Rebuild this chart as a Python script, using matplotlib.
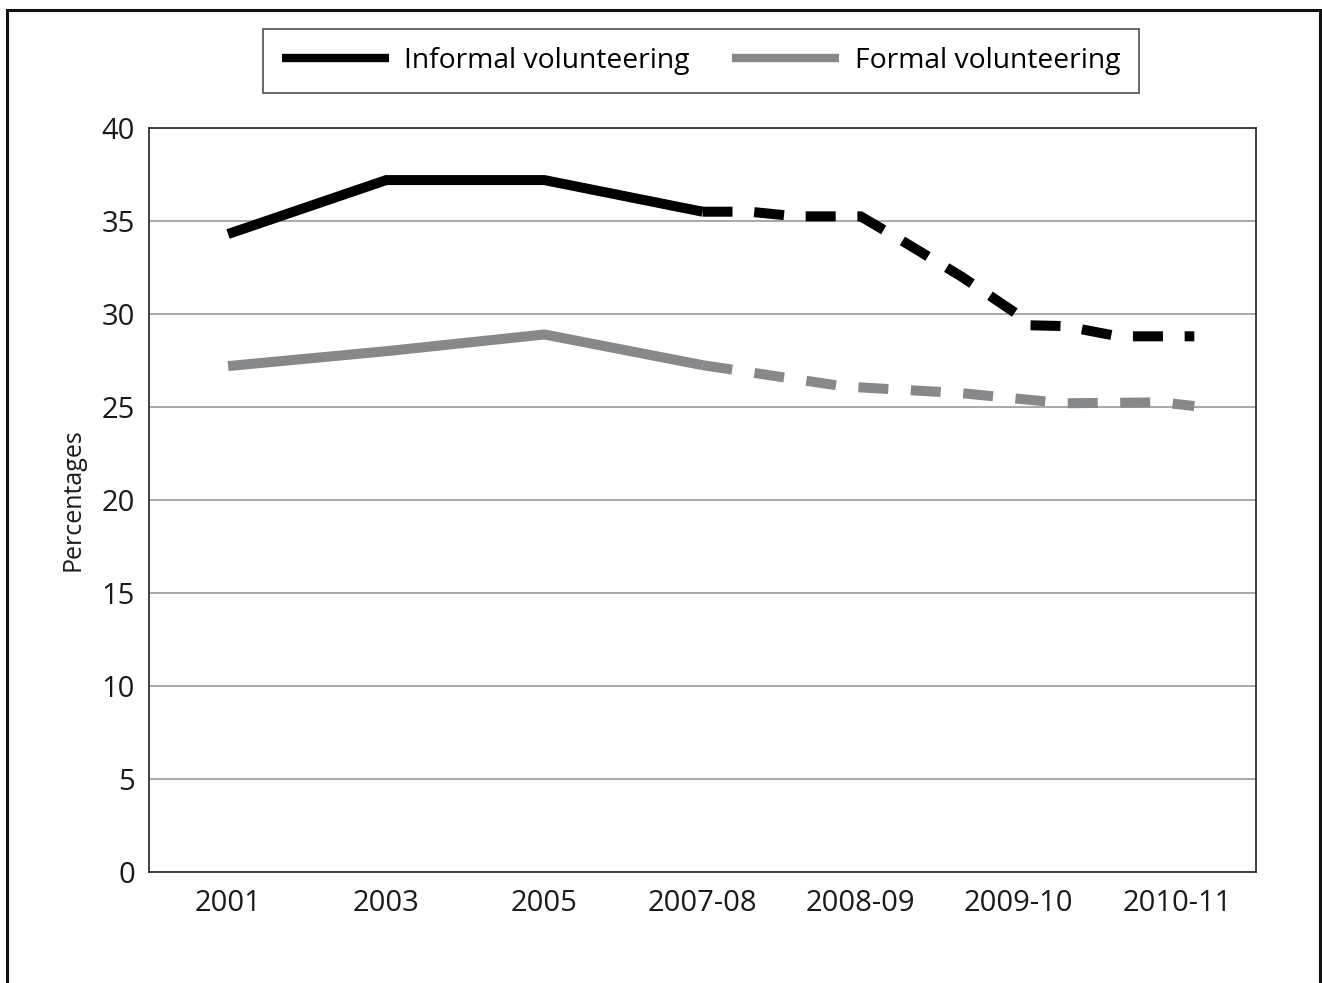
import matplotlib.pyplot as plt
from matplotlib.lines import Line2D
from matplotlib.patches import Rectangle

plt.rcParams["font.family"] = ["Open Sans", "DejaVu Sans"]

categories = ["2001", "2003", "2005", "2007-08", "2008-09", "2009-10", "2010-11"]

# solid part (annual surveys), x in category positions
informal_solid_x = [0, 1, 2, 3]
informal_solid = [34.3, 37.2, 37.2, 35.5]
formal_solid_x = [0, 1, 2, 3]
formal_solid = [27.2, 28.0, 28.9, 27.25]

# dashed part (continuous survey), vertices
informal_dash_x = [3.0, 3.30, 3.59, 4.0, 4.25, 4.64, 4.98, 5.04, 5.29, 5.63, 6.11]
informal_dash = [35.5, 35.5, 35.25, 35.25, 34.0, 32.0, 30.05, 29.4, 29.35, 28.8, 28.8]
formal_dash_x = [3.0, 3.9, 4.63, 5.29, 5.9, 6.11]
formal_dash = [27.25, 26.1, 25.75, 25.2, 25.25, 25.05]

black = "#000000"
grey = "#87888a"

W, H = 1322, 983
fig = plt.figure(figsize=(W / 100, H / 100), dpi=100)
ax = fig.add_axes([149 / W, 111 / H, (1256 - 149) / W, (872 - 128) / H])

lw = 7.2
ax.plot(informal_solid_x, informal_solid, color=black, lw=lw,
        solid_joinstyle="miter", solid_capstyle="butt", zorder=3)
ax.plot(informal_dash_x, informal_dash, color=black, lw=lw,
        linestyle=(0, (3.0, 2.17)),
        dash_capstyle="butt", dash_joinstyle="miter", zorder=3)
ax.plot(formal_solid_x, formal_solid, color=grey, lw=lw,
        solid_joinstyle="miter", solid_capstyle="butt", zorder=3)
ax.plot(formal_dash_x, formal_dash, color=grey, lw=lw,
        linestyle=(0, (3.0, 2.25)),
        dash_capstyle="butt", dash_joinstyle="miter", zorder=3)

ax.set_xlim(-0.5, 6.5)
ax.set_ylim(0, 40)
ax.set_yticks(range(0, 41, 5))
ax.set_xticks(range(len(categories)))
ax.set_xticklabels(categories)
ax.yaxis.grid(True, color="#9a9a9a", lw=1.2)
ax.set_axisbelow(True)
ax.tick_params(axis="both", length=0, labelsize=21, colors="#1a1a1a")
ax.tick_params(axis="x", pad=12)
ax.tick_params(axis="y", pad=10)
for s in ax.spines.values():
    s.set_color("#333333")
    s.set_linewidth(1.3)
ax.set_ylabel("Percentages", fontsize=18, labelpad=12, color="#1a1a1a")

handles = [
    Line2D([], [], color=black, lw=6, solid_capstyle="butt"),
    Line2D([], [], color=grey, lw=6, solid_capstyle="butt"),
]
leg = fig.legend(handles, ["Informal volunteering", "Formal volunteering"],
                 loc="center", bbox_to_anchor=(701 / W, 1 - 61 / H), ncol=2,
                 fontsize=20.3, frameon=True, fancybox=False, handlelength=3.8,
                 handletextpad=0.55, columnspacing=1.5, borderpad=0.65,
                 borderaxespad=0)
leg.get_frame().set_edgecolor("#222222")
leg.get_frame().set_linewidth(1.2)

# outer frame around the whole figure (open at the bottom)
fig.add_artist(Rectangle((7 / W, -0.05), (1320 - 7) / W, 1.05 - 10 / H,
                         transform=fig.transFigure, fill=False,
                         edgecolor="#111111", lw=2.2))

fig.savefig("out.png", dpi=100)
